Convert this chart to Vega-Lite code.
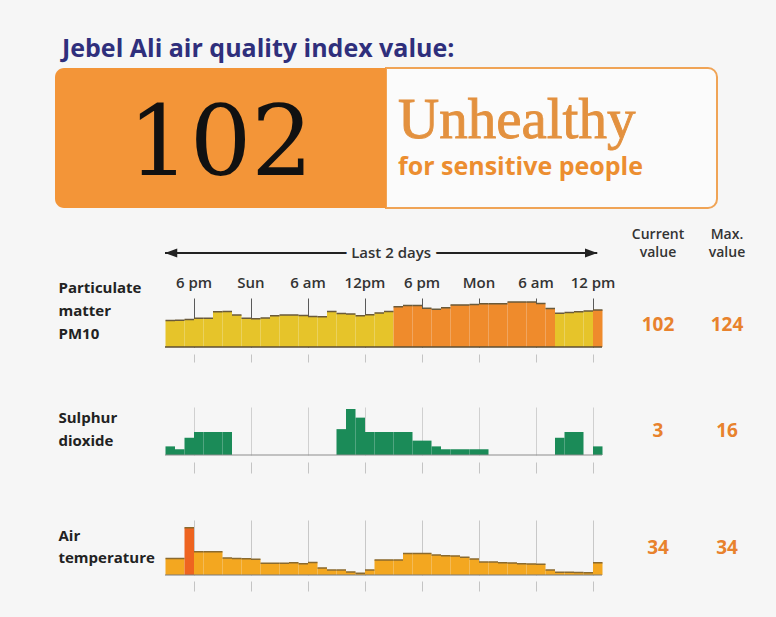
{
  "$schema": "https://vega.github.io/schema/vega-lite/v6.json",
  "background": "#f6f6f6",
  "padding": {"left": 7, "top": 7, "right": 7, "bottom": 6},
  "bounds": "flush",
  "spacing": 0,
  "config": {
    "view": {"stroke": null},
    "font": "Open Sans",
    "text": {"font": "Open Sans"},
    "title": {"font": "Open Sans"},
    "axis": {"labelFont": "Open Sans", "titleFont": "Open Sans"}
  },
  "datasets": {
    "hourly": [
      {"t": "2013-06-01T15:00", "pm10": 73, "so2": 3, "temp": 35.4},
      {"t": "2013-06-01T16:00", "pm10": 74, "so2": 2, "temp": 35.4},
      {"t": "2013-06-01T17:00", "pm10": 76, "so2": 6, "temp": 45.4},
      {"t": "2013-06-01T18:00", "pm10": 79, "so2": 8, "temp": 37.6},
      {"t": "2013-06-01T19:00", "pm10": 79, "so2": 8, "temp": 37.6},
      {"t": "2013-06-01T20:00", "pm10": 97, "so2": 8, "temp": 37.6},
      {"t": "2013-06-01T21:00", "pm10": 98, "so2": 8, "temp": 35.5},
      {"t": "2013-06-01T22:00", "pm10": 88, "so2": 0, "temp": 35.4},
      {"t": "2013-06-01T23:00", "pm10": 79, "so2": 0, "temp": 35.3},
      {"t": "2013-06-02T00:00", "pm10": 78, "so2": 0, "temp": 35.1},
      {"t": "2013-06-02T01:00", "pm10": 80, "so2": 0, "temp": 33.8},
      {"t": "2013-06-02T02:00", "pm10": 86, "so2": 0, "temp": 33.8},
      {"t": "2013-06-02T03:00", "pm10": 88, "so2": 0, "temp": 33.8},
      {"t": "2013-06-02T04:00", "pm10": 88, "so2": 0, "temp": 34.0},
      {"t": "2013-06-02T05:00", "pm10": 87, "so2": 0, "temp": 33.7},
      {"t": "2013-06-02T06:00", "pm10": 84, "so2": 0, "temp": 34.1},
      {"t": "2013-06-02T07:00", "pm10": 83, "so2": 0, "temp": 32.3},
      {"t": "2013-06-02T08:00", "pm10": 98, "so2": 0, "temp": 31.6},
      {"t": "2013-06-02T09:00", "pm10": 92, "so2": 9, "temp": 31.6},
      {"t": "2013-06-02T10:00", "pm10": 91, "so2": 16, "temp": 31.0},
      {"t": "2013-06-02T11:00", "pm10": 86, "so2": 13, "temp": 30.6},
      {"t": "2013-06-02T12:00", "pm10": 89, "so2": 8, "temp": 31.6},
      {"t": "2013-06-02T13:00", "pm10": 94, "so2": 8, "temp": 34.9},
      {"t": "2013-06-02T14:00", "pm10": 98, "so2": 8, "temp": 34.9},
      {"t": "2013-06-02T15:00", "pm10": 111, "so2": 8, "temp": 34.9},
      {"t": "2013-06-02T16:00", "pm10": 114, "so2": 8, "temp": 37.0},
      {"t": "2013-06-02T17:00", "pm10": 114, "so2": 5, "temp": 37.0},
      {"t": "2013-06-02T18:00", "pm10": 107, "so2": 5, "temp": 37.0},
      {"t": "2013-06-02T19:00", "pm10": 104, "so2": 3, "temp": 36.5},
      {"t": "2013-06-02T20:00", "pm10": 108, "so2": 2, "temp": 36.3},
      {"t": "2013-06-02T21:00", "pm10": 116, "so2": 2, "temp": 36.2},
      {"t": "2013-06-02T22:00", "pm10": 116, "so2": 2, "temp": 35.8},
      {"t": "2013-06-02T23:00", "pm10": 117, "so2": 2, "temp": 35.2},
      {"t": "2013-06-03T00:00", "pm10": 119, "so2": 2, "temp": 34.2},
      {"t": "2013-06-03T01:00", "pm10": 119, "so2": 0, "temp": 34.2},
      {"t": "2013-06-03T02:00", "pm10": 119, "so2": 0, "temp": 34.0},
      {"t": "2013-06-03T03:00", "pm10": 124, "so2": 0, "temp": 33.9},
      {"t": "2013-06-03T04:00", "pm10": 124, "so2": 0, "temp": 33.7},
      {"t": "2013-06-03T05:00", "pm10": 124, "so2": 0, "temp": 33.6},
      {"t": "2013-06-03T06:00", "pm10": 120, "so2": 0, "temp": 33.5},
      {"t": "2013-06-03T07:00", "pm10": 106, "so2": 0, "temp": 31.6},
      {"t": "2013-06-03T08:00", "pm10": 93, "so2": 6, "temp": 30.9},
      {"t": "2013-06-03T09:00", "pm10": 95, "so2": 8, "temp": 30.9},
      {"t": "2013-06-03T10:00", "pm10": 97, "so2": 8, "temp": 30.8},
      {"t": "2013-06-03T11:00", "pm10": 99, "so2": 0, "temp": 30.7},
      {"t": "2013-06-03T12:00", "pm10": 102, "so2": 3, "temp": 34.0}
    ],
    "panels": [
      {"key": "pm10", "current": 102, "max": 124},
      {"key": "so2", "current": 3, "max": 16},
      {"key": "temp", "current": 34, "max": 34}
    ],
    "columns": [
      {"col": "current", "label": "Current value"},
      {"col": "max", "label": "Max. value"}
    ],
    "header": [
      {"part": "value", "value": 102},
      {"part": "level", "level": "Unhealthy", "note": "for sensitive people"}
    ],
    "arrow": [
      {"edge": "start", "t": "2013-06-01T15:00", "label": "Last 2 days"},
      {"edge": "end", "t": "2013-06-03T12:30", "label": "Last 2 days"}
    ]
  },
  "vconcat": [
    {
      "width": 762,
      "height": 61,
      "data": {"values": [{}]},
      "mark": {"type": "text", "text": ""}
    },
    {
      "width": 762,
      "height": 140,
      "title": {"text": "Jebel Ali air quality index value:", "anchor": "start", "frame": "group", "dx": 55, "dy": 27, "offset": 12, "baseline": "alphabetic", "fontSize": 25, "fontWeight": "bold", "color": "#2f2f7c"},
      "data": {"name": "header"},
      "encoding": {
        "x": {"field": "part", "type": "nominal", "scale": {"domain": ["value", "level"], "range": [48, 710], "paddingInner": 0, "paddingOuter": 0}, "axis": null}
      },
      "layer": [
        {
          "transform": [{"filter": "datum.part == 'level'"}],
          "mark": {"type": "rect", "fill": "#fbfbfb", "stroke": "#f0a456", "strokeWidth": 2, "cornerRadiusTopRight": 9, "cornerRadiusBottomRight": 9}
        },
        {
          "transform": [{"filter": "datum.part == 'value'"}],
          "mark": {"type": "rect", "fill": "#f39538", "cornerRadiusTopLeft": 9, "cornerRadiusBottomLeft": 9}
        },
        {
          "transform": [{"filter": "datum.part == 'value'"}],
          "mark": {"type": "text", "font": "DejaVu Serif", "fontSize": 97, "color": "#111111", "baseline": "middle", "dy": 8},
          "encoding": {"text": {"field": "value", "type": "quantitative", "format": "d"}}
        },
        {
          "transform": [{"filter": "datum.part == 'level'"}],
          "mark": {"type": "text", "font": "Liberation Serif", "fontSize": 57, "color": "#e3913f", "stroke": "#e3913f", "strokeWidth": 0.9, "align": "left", "baseline": "alphabetic", "dx": 12, "dy": 0},
          "encoding": {
            "x": {"field": "part", "type": "nominal", "bandPosition": 0},
            "text": {"field": "level"}
          }
        },
        {
          "transform": [{"filter": "datum.part == 'level'"}],
          "mark": {"type": "text", "fontSize": 25, "fontWeight": "bold", "color": "#ec8e30", "align": "left", "baseline": "alphabetic", "dx": 12, "dy": 37},
          "encoding": {
            "x": {"field": "part", "type": "nominal", "bandPosition": 0},
            "text": {"field": "note"}
          }
        }
      ]
    },
    {
      "width": 762,
      "height": 90,
      "layer": [
        {
          "data": {"name": "arrow"},
          "mark": {"type": "rule", "color": "#222222", "strokeWidth": 2},
          "encoding": {
            "x": {"aggregate": "min", "field": "t", "type": "temporal", "scale": {"domain": [{"year": 2013, "month": 6, "date": 1, "hours": 15}, {"year": 2013, "month": 6, "date": 3, "hours": 13}], "range": [158, 595], "nice": false}, "axis": null},
            "x2": {"aggregate": "max", "field": "t"}
          }
        },
        {
          "data": {"name": "arrow"},
          "transform": [{"filter": "datum.edge == 'start'"}],
          "mark": {"type": "point", "shape": "M0,0L2,-0.75L2,0.75Z", "size": 150, "filled": true, "color": "#222222", "opacity": 1},
          "encoding": {
            "x": {"field": "t", "type": "temporal", "scale": {"domain": [{"year": 2013, "month": 6, "date": 1, "hours": 15}, {"year": 2013, "month": 6, "date": 3, "hours": 13}], "range": [158, 595], "nice": false}, "axis": null}
          }
        },
        {
          "data": {"name": "arrow"},
          "transform": [{"filter": "datum.edge == 'end'"}],
          "mark": {"type": "point", "shape": "M0,0L-2,-0.75L-2,0.75Z", "size": 150, "filled": true, "color": "#222222", "opacity": 1},
          "encoding": {
            "x": {"field": "t", "type": "temporal", "scale": {"domain": [{"year": 2013, "month": 6, "date": 1, "hours": 15}, {"year": 2013, "month": 6, "date": 3, "hours": 13}], "range": [158, 595], "nice": false}, "axis": null}
          }
        },
        {
          "data": {"name": "arrow"},
          "mark": {"type": "text", "fontSize": 15, "fontWeight": 600, "color": "#f6f6f6", "stroke": "#f6f6f6", "strokeWidth": 12, "dx": 10},
          "encoding": {
            "x": {"aggregate": "mean", "field": "t", "type": "temporal", "scale": {"domain": [{"year": 2013, "month": 6, "date": 1, "hours": 15}, {"year": 2013, "month": 6, "date": 3, "hours": 13}], "range": [158, 595], "nice": false}, "axis": null},
            "text": {"field": "label"}
          }
        },
        {
          "data": {"name": "arrow"},
          "mark": {"type": "text", "fontSize": 15, "fontWeight": 600, "color": "#333333", "dx": 10},
          "encoding": {
            "x": {"aggregate": "mean", "field": "t", "type": "temporal", "scale": {"domain": [{"year": 2013, "month": 6, "date": 1, "hours": 15}, {"year": 2013, "month": 6, "date": 3, "hours": 13}], "range": [158, 595], "nice": false}, "axis": null},
            "text": {"field": "label"}
          }
        },
        {
          "data": {"name": "columns"},
          "mark": {"type": "text", "fontSize": 14, "fontWeight": 600, "color": "#333333", "lineBreak": " ", "lineHeight": 18, "dy": -18},
          "encoding": {
            "x": {"field": "col", "type": "nominal", "scale": {"domain": ["current", "max"], "range": [616.5, 754.5], "paddingInner": 0, "paddingOuter": 0}, "axis": null},
            "text": {"field": "label"}
          }
        }
      ],
      "resolve": {"scale": {"x": "independent"}, "axis": {"x": "independent"}}
    },
    {
      "width": 762,
      "height": 49,
      "layer": [
        {
          "data": {"name": "hourly"},
          "mark": {"type": "bar", "binSpacing": 0},
          "encoding": {
            "x": {"field": "t", "type": "temporal", "timeUnit": "yearmonthdatehours", "scale": {"domain": [{"year": 2013, "month": 6, "date": 1, "hours": 15}, {"year": 2013, "month": 6, "date": 3, "hours": 13}], "range": [158, 595], "nice": false},
              "axis": {"orient": "bottom", "values": [{"year": 2013, "month": 6, "date": 1, "hours": 18}, {"year": 2013, "month": 6, "date": 2, "hours": 0}, {"year": 2013, "month": 6, "date": 2, "hours": 6}, {"year": 2013, "month": 6, "date": 2, "hours": 12}, {"year": 2013, "month": 6, "date": 2, "hours": 18}, {"year": 2013, "month": 6, "date": 3, "hours": 0}, {"year": 2013, "month": 6, "date": 3, "hours": 6}, {"year": 2013, "month": 6, "date": 3, "hours": 12}],
                "labels": false, "domain": false, "ticks": true, "tickSize": 8, "tickColor": "#c4c4c4", "offset": 7, "grid": true, "gridColor": "#5a5a5a", "gridWidth": 1, "title": null}},
            "y": {"field": "pm10", "type": "quantitative", "stack": null, "scale": {"domain": [0, 135], "nice": false},
              "axis": {"title": ["Particulate", "matter", "PM10"], "titleAngle": 0, "titleAlign": "left", "titleBaseline": "top", "titleX": 51, "titleY": -18, "titleFontSize": 15, "titleFontWeight": "bold", "titleColor": "#222222", "titleLineHeight": 23, "labels": false, "ticks": false, "domain": false, "grid": false}},
            "y2": {"datum": 0},
            "color": {"condition": {"test": "datum.pm10 > 100", "value": "#ef8b2c"}, "value": "#e6c42a"}
          }
        },
        {
          "data": {"name": "hourly"},
          "mark": {"type": "bar", "binSpacing": 0, "filled": false, "color": "#6a5a3a", "strokeWidth": 1.5},
          "encoding": {
            "x": {"field": "t", "type": "temporal", "timeUnit": "yearmonthdatehours", "scale": {"domain": [{"year": 2013, "month": 6, "date": 1, "hours": 15}, {"year": 2013, "month": 6, "date": 3, "hours": 13}], "range": [158, 595], "nice": false},
              "axis": {"orient": "top", "values": [{"year": 2013, "month": 6, "date": 1, "hours": 18}, {"year": 2013, "month": 6, "date": 2, "hours": 0}, {"year": 2013, "month": 6, "date": 2, "hours": 6}, {"year": 2013, "month": 6, "date": 2, "hours": 12}, {"year": 2013, "month": 6, "date": 2, "hours": 18}, {"year": 2013, "month": 6, "date": 3, "hours": 0}, {"year": 2013, "month": 6, "date": 3, "hours": 6}, {"year": 2013, "month": 6, "date": 3, "hours": 12}],
                "labelExpr": "hours(datum.value) == 0 ? timeFormat(datum.value, '%a') : hours(datum.value) == 18 ? '6 pm' : hours(datum.value) == 6 ? '6 am' : date(datum.value) == 2 ? '12pm' : '12 pm'",
                "labelFontSize": 15, "labelFontWeight": 600, "labelColor": "#333333", "labelPadding": 11, "labelBaseline": "alphabetic", "labelOverlap": false, "labelFlush": false,
                "ticks": false, "tickSize": 0, "domain": false, "grid": false, "title": null}},
            "y": {"field": "pm10", "type": "quantitative"},
            "y2": {"field": "pm10"}
          }
        },
        {
          "data": {"values": [{}]},
          "mark": {"type": "rule", "color": "#5d4e33", "strokeWidth": 1.5},
          "encoding": {
            "x": {"datum": {"year": 2013, "month": 6, "date": 1, "hours": 15}, "type": "temporal", "scale": {"domain": [{"year": 2013, "month": 6, "date": 1, "hours": 15}, {"year": 2013, "month": 6, "date": 3, "hours": 13}], "range": [158, 595], "nice": false}, "axis": null},
            "x2": {"datum": {"year": 2013, "month": 6, "date": 3, "hours": 13}},
            "y": {"datum": 0, "type": "quantitative"}
          }
        },
        {
          "data": {"name": "panels"},
          "transform": [{"filter": "datum.key == 'pm10'"}, {"fold": ["current", "max"], "as": ["col", "v"]}],
          "mark": {"type": "text", "fontSize": 19, "fontWeight": "bold", "color": "#e8822d", "dy": 2.5},
          "encoding": {
            "x": {"field": "col", "type": "nominal", "scale": {"domain": ["current", "max"], "range": [616.5, 754.5], "paddingInner": 0, "paddingOuter": 0}, "axis": null},
            "text": {"field": "v", "type": "quantitative", "format": "d"}
          }
        }
      ],
      "resolve": {"scale": {"x": "independent"}, "axis": {"x": "independent"}}
    },
    {
      "width": 762,
      "height": 60,
      "data": {"values": [{}]},
      "mark": {"type": "text", "text": ""}
    },
    {
      "width": 762,
      "height": 48,
      "layer": [
        {
          "data": {"name": "hourly"},
          "mark": {"type": "bar", "binSpacing": 0, "color": "#1b8b58"},
          "encoding": {
            "x": {"field": "t", "type": "temporal", "timeUnit": "yearmonthdatehours", "scale": {"domain": [{"year": 2013, "month": 6, "date": 1, "hours": 15}, {"year": 2013, "month": 6, "date": 3, "hours": 13}], "range": [158, 595], "nice": false},
              "axis": {"orient": "bottom", "values": [{"year": 2013, "month": 6, "date": 1, "hours": 18}, {"year": 2013, "month": 6, "date": 2, "hours": 0}, {"year": 2013, "month": 6, "date": 2, "hours": 6}, {"year": 2013, "month": 6, "date": 2, "hours": 12}, {"year": 2013, "month": 6, "date": 2, "hours": 18}, {"year": 2013, "month": 6, "date": 3, "hours": 0}, {"year": 2013, "month": 6, "date": 3, "hours": 6}, {"year": 2013, "month": 6, "date": 3, "hours": 12}],
                "labels": false, "domain": false, "ticks": true, "tickSize": 11, "tickColor": "#c4c4c4", "offset": 7, "grid": true, "gridColor": "#d0d0d0", "gridWidth": 1, "title": null}},
            "y": {"field": "so2", "type": "quantitative", "stack": null, "scale": {"domain": [0, 16.7], "nice": false},
              "axis": {"title": ["Sulphur", "dioxide"], "titleAngle": 0, "titleAlign": "left", "titleBaseline": "top", "titleX": 51, "titleY": 3, "titleFontSize": 15, "titleFontWeight": "bold", "titleColor": "#222222", "titleLineHeight": 23, "labels": false, "ticks": false, "domain": false, "grid": false}},
            "y2": {"datum": 0}
          }
        },
        {
          "data": {"values": [{}]},
          "mark": {"type": "rule", "color": "#8c8c8c", "strokeWidth": 1},
          "encoding": {
            "x": {"datum": {"year": 2013, "month": 6, "date": 1, "hours": 15}, "type": "temporal", "scale": {"domain": [{"year": 2013, "month": 6, "date": 1, "hours": 15}, {"year": 2013, "month": 6, "date": 3, "hours": 13}], "range": [158, 595], "nice": false}, "axis": null},
            "x2": {"datum": {"year": 2013, "month": 6, "date": 3, "hours": 13}},
            "y": {"datum": 0, "type": "quantitative"}
          }
        },
        {
          "data": {"name": "panels"},
          "transform": [{"filter": "datum.key == 'so2'"}, {"fold": ["current", "max"], "as": ["col", "v"]}],
          "mark": {"type": "text", "fontSize": 19, "fontWeight": "bold", "color": "#e8822d"},
          "encoding": {
            "x": {"field": "col", "type": "nominal", "scale": {"domain": ["current", "max"], "range": [616.5, 754.5], "paddingInner": 0, "paddingOuter": 0}, "axis": null},
            "text": {"field": "v", "type": "quantitative", "format": "d"}
          }
        }
      ],
      "resolve": {"scale": {"x": "independent"}, "axis": {"x": "independent"}}
    },
    {
      "width": 762,
      "height": 65,
      "data": {"values": [{}]},
      "mark": {"type": "text", "text": ""}
    },
    {
      "width": 762,
      "height": 55,
      "layer": [
        {
          "data": {"name": "hourly"},
          "mark": {"type": "bar", "binSpacing": 0},
          "encoding": {
            "x": {"field": "t", "type": "temporal", "timeUnit": "yearmonthdatehours", "scale": {"domain": [{"year": 2013, "month": 6, "date": 1, "hours": 15}, {"year": 2013, "month": 6, "date": 3, "hours": 13}], "range": [158, 595], "nice": false},
              "axis": {"orient": "bottom", "values": [{"year": 2013, "month": 6, "date": 1, "hours": 18}, {"year": 2013, "month": 6, "date": 2, "hours": 0}, {"year": 2013, "month": 6, "date": 2, "hours": 6}, {"year": 2013, "month": 6, "date": 2, "hours": 12}, {"year": 2013, "month": 6, "date": 2, "hours": 18}, {"year": 2013, "month": 6, "date": 3, "hours": 0}, {"year": 2013, "month": 6, "date": 3, "hours": 6}, {"year": 2013, "month": 6, "date": 3, "hours": 12}],
                "labels": false, "domain": false, "ticks": true, "tickSize": 10, "tickColor": "#c4c4c4", "offset": 6, "grid": true, "gridColor": "#c8c8c8", "gridWidth": 1, "title": null}},
            "y": {"field": "temp", "type": "quantitative", "stack": null, "scale": {"domain": [30, 47.9], "nice": false, "zero": false},
              "axis": {"title": ["Air", "temperature"], "titleAngle": 0, "titleAlign": "left", "titleBaseline": "top", "titleX": 51, "titleY": 8, "titleFontSize": 15, "titleFontWeight": "bold", "titleColor": "#222222", "titleLineHeight": 22, "labels": false, "ticks": false, "domain": false, "grid": false}},
            "y2": {"datum": 30},
            "color": {"condition": {"test": "datum.temp > 40", "value": "#ee6420"}, "value": "#f3a720"}
          }
        },
        {
          "data": {"name": "hourly"},
          "mark": {"type": "bar", "binSpacing": 0, "filled": false, "color": "#8a6a2e", "strokeWidth": 1.5},
          "encoding": {
            "x": {"field": "t", "type": "temporal", "timeUnit": "yearmonthdatehours", "scale": {"domain": [{"year": 2013, "month": 6, "date": 1, "hours": 15}, {"year": 2013, "month": 6, "date": 3, "hours": 13}], "range": [158, 595], "nice": false}, "axis": null},
            "y": {"field": "temp", "type": "quantitative"},
            "y2": {"field": "temp"}
          }
        },
        {
          "data": {"values": [{}]},
          "mark": {"type": "rule", "color": "#7a7a7a", "strokeWidth": 1.2},
          "encoding": {
            "x": {"datum": {"year": 2013, "month": 6, "date": 1, "hours": 15}, "type": "temporal", "scale": {"domain": [{"year": 2013, "month": 6, "date": 1, "hours": 15}, {"year": 2013, "month": 6, "date": 3, "hours": 13}], "range": [158, 595], "nice": false}, "axis": null},
            "x2": {"datum": {"year": 2013, "month": 6, "date": 3, "hours": 13}},
            "y": {"datum": 30, "type": "quantitative"}
          }
        },
        {
          "data": {"name": "panels"},
          "transform": [{"filter": "datum.key == 'temp'"}, {"fold": ["current", "max"], "as": ["col", "v"]}],
          "mark": {"type": "text", "fontSize": 19, "fontWeight": "bold", "color": "#e8822d"},
          "encoding": {
            "x": {"field": "col", "type": "nominal", "scale": {"domain": ["current", "max"], "range": [616.5, 754.5], "paddingInner": 0, "paddingOuter": 0}, "axis": null},
            "text": {"field": "v", "type": "quantitative", "format": "d"}
          }
        }
      ],
      "resolve": {"scale": {"x": "independent"}, "axis": {"x": "independent"}}
    },
    {
      "width": 762,
      "height": 36,
      "data": {"values": [{}]},
      "mark": {"type": "text", "text": ""}
    }
  ]
}
